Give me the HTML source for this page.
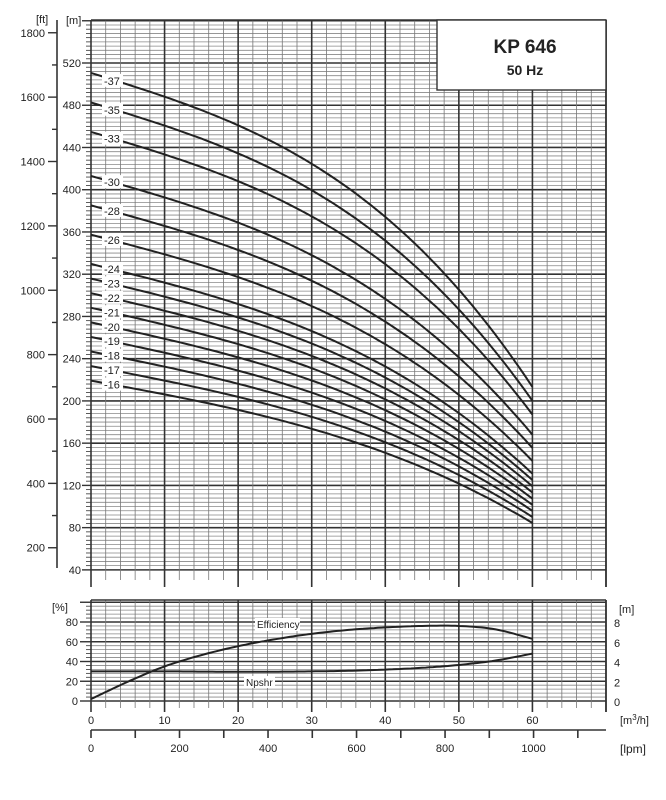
<!DOCTYPE html>
<html><head><meta charset="utf-8"><style>
body{margin:0;background:#fff;}
svg{display:block;font-family:"Liberation Sans",sans-serif;}
</style></head><body>
<svg id="s" width="666" height="800" viewBox="0 0 666 800" xmlns="http://www.w3.org/2000/svg"></svg>
<script>
var s=document.getElementById('s');var out='';
function L(x1,y1,x2,y2,c,w){out+='<line x1="'+x1+'" y1="'+y1+'" x2="'+x2+'" y2="'+y2+'" stroke="'+c+'" stroke-width="'+w+'"/>';}
function T(x,y,t,a,sz,extra){out+='<text x="'+x+'" y="'+y+'" font-size="'+(sz||11)+'" text-anchor="'+(a||'start')+'" fill="#222" '+(extra||'')+'>'+t+'</text>';}
var X0=91,XR=606,PX=7.357;
function X(q){return X0+q*PX;}
var TT=20,TB=570;
function Y(m){return 63+(520-m)*1.056;}
for(var m=40;m<=560;m+=4){var y=Y(m);if(y<TT)break;var maj=(m%40==0);
 L(X0,y,XR,y,maj?'#333':'#888',maj?1.6:0.8);
 L(maj?82:86,y,X0,y,'#333',maj?1.4:0.8);
 if(maj&&m<=520)T(81,y+4,m,'end',11);}
for(var q=0;q<=70;q+=2){var x=X(q);var maj=(q%10==0);
 L(x,TT,x,maj?587:580,maj?'#333':'#777',maj?1.6:0.8);}
L(X0,TT,XR,TT,'#333',1.4);L(XR,TT,XR,587,'#333',1.6);
L(57,20,57,568,'#333',1.6);
for(var f=100;f<=1800;f+=100){var y=Y(f*0.3048);if(y>568)continue;var maj=(f%200==0);
 L(maj?48:52,y,57,y,'#333',1.4);if(maj)T(45,y+4,f,'end',11);}
T(36,23,'[ft]','start',11);T(66,24,'[m]','start',11);
out+='<rect x="437" y="20" width="169" height="70" fill="#fff" stroke="#333" stroke-width="1.4"/>';
T(525,53,'KP 646','middle',19,'font-weight="bold"');T(525,75,'50 Hz','middle',14,'font-weight="bold"');
var ST=[16,17,18,19,20,21,22,23,24,26,28,30,33,35,37];
ST.forEach(function(n){var w=(n-16)/21;
 var a=0.0799*(1-w)+0.0587*w,b=1.68e-5*(1-w)+2.09e-5*w,h0=13.7+0.1*w;var d='';
 for(var q=0;q<=60;q+=1){var h=n*(h0-a*q-b*q*q*q);d+=(q?'L':'M')+X(q).toFixed(1)+' '+Y(h).toFixed(1);}
 out+='<path d="'+d+'" fill="none" stroke="#222" stroke-width="2"/>';
 var y0=Y(n*13.7);out+='<rect x="102" y="'+(y0-3)+'" width="21" height="13" fill="#fff"/>';
 T(104,y0+8,'-'+n,'start',11);});
var BT=600,BB=701;function YB(p){return 701-p*0.9875;}
for(var p=0;p<=100;p+=4){var y=YB(p);var maj=(p%20==0);
 L(X0,y,XR,y,maj?'#333':'#888',maj?1.6:0.8);
 L(maj?80:86,y,X0,y,'#333',maj?1.4:0.8);
 if(maj&&p<=80){T(78,y+4,p,'end',11);T(614,y+5,p/10,'start',11);}}
for(var q=0;q<=70;q+=2){var x=X(q);var maj=(q%10==0);
 L(x,BT,x,maj?712:708,maj?'#333':'#777',maj?1.6:0.8);
 if(maj&&q<=60)T(x,724,q,'middle',11);}
L(X0,BT,XR,BT,'#333',1.4);L(XR,BT,XR,712,'#333',1.6);
T(52,611,'[%]','start',11);T(619,613,'[m]','start',11);
T(620,724,'[m<tspan font-size="8" dy="-4">3</tspan><tspan dy="4">/h]</tspan>','start',11);
L(X0,730,606,730,'#333',1.6);
for(var l=0;l<=1100;l+=100){var x=X0+l*0.44257;L(x,730,x,738,'#333',1.6);if(l%200==0)T(x,752,l,'middle',11);}
T(620,753,'[lpm]','start',12);
function interp(arr,q){var N=arr.length-1;var u=q/5;var i=Math.min(N-1,Math.floor(u));var t=u-i;
 var p1=arr[i],p2=arr[i+1];var p0=i>0?arr[i-1]:2*p1-p2;var p3=i+2<=N?arr[i+2]:2*p2-p1;
 return 0.5*((2*p1)+(-p0+p2)*t+(2*p0-5*p1+4*p2-p3)*t*t+(-p0+3*p1-3*p2+p3)*t*t*t);}
function curve(pts){var d='';for(var q=0;q<=60;q+=0.5){var v=interp(pts,q);d+=(q?'L':'M')+X(q).toFixed(1)+' '+YB(v).toFixed(1);}
 out+='<path d="'+d+'" fill="none" stroke="#222" stroke-width="2"/>';}
curve([2,19.5,35,46.5,55.5,62.5,68,72,74.5,76,76,72.5,63]);
curve([30,30,30,29.8,29.6,29.7,30,30.6,31.8,33.6,36.5,41,48]);
out+='<rect x="255" y="618" width="45" height="13" fill="#fff"/>';T(257,628,'Efficiency','start',10);
out+='<rect x="244" y="676" width="31" height="12" fill="#fff"/>';T(246,686,'Npshr','start',10);
s.innerHTML=out;
</script>
</body></html>
